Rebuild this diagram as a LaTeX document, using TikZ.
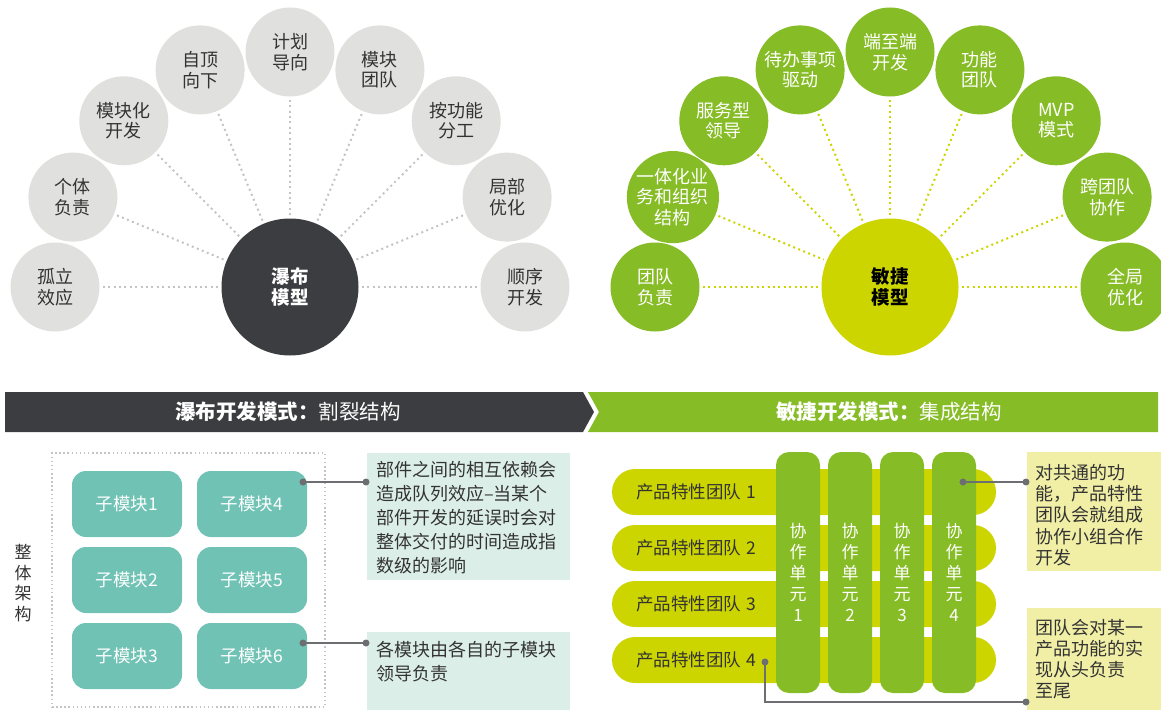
\documentclass[tikz,border=0pt]{standalone}
\usepackage{fontspec}
\setmainfont{Noto Sans CJK SC}
\definecolor{darkc}{HTML}{3C3D41}
\definecolor{grayc}{HTML}{E0E0DE}
\definecolor{greenc}{HTML}{86BC25}
\definecolor{limec}{HTML}{CDD500}
\definecolor{tealc}{HTML}{6FC2B4}
\definecolor{lteal}{HTML}{DCEEE8}
\definecolor{lyellow}{HTML}{F1EFA6}
\definecolor{linec}{HTML}{6D6E71}
\definecolor{dotgray}{HTML}{C4C4C4}
\definecolor{txt}{HTML}{333333}
\begin{document}
\begin{tikzpicture}[x=1pt,y=-1pt,
  sat/.style={circle,minimum size=89pt,inner sep=0pt,align=center,font=\fontsize{18}{20.5}\selectfont},
  wsat/.style={sat,fill=grayc,text=txt},
  gsat/.style={sat,fill=greenc,text=white},
  hub/.style={circle,minimum size=137pt,inner sep=0pt,align=center,font=\bfseries\fontsize{18.5}{21}\selectfont},
  gdot/.style={draw=dotgray,line width=2pt,dash pattern=on 2pt off 3.4pt,shorten <=3pt,shorten >=3pt},
  ldot/.style={gdot,draw=limec},
  tbox/.style={fill=tealc,rounded corners=14pt,minimum width=110pt,minimum height=66pt,inner sep=0pt,text=white,font=\fontsize{17.5}{20}\selectfont},
  bar/.style={fill=limec,rounded corners=23pt,minimum height=46pt,inner xsep=24pt,inner ysep=0pt,text width=336pt,align=left,text=txt,font=\fontsize{17.5}{20}\selectfont},
  colbox/.style={fill=greenc,rounded corners=13pt,minimum width=44pt,minimum height=241pt,inner sep=0pt,align=center,text=white,font=\fontsize{17}{21}\selectfont},
  boxfill/.style={anchor=north west,inner sep=0pt},
  ctext/.style={anchor=north west,inner sep=0pt,align=left,text=txt},
  dotn/.style={circle,fill=linec,minimum size=7pt,inner sep=0pt},
  conn/.style={draw=linec,line width=2pt},
  bantext/.style={text=white,font=\fontsize{20.5}{22}\selectfont,inner sep=0pt}
]
\useasboundingbox (0,0) rectangle (1161,709);

% ---------- left fan ----------
\node[hub,fill=darkc,text=white] (lc) at (290,287) {瀑布\\模型};
\node[wsat] (l0) at (55,287) {孤立\\效应};
\node[wsat] (l1) at (72.9,197.1) {个体\\负责};
\node[wsat] (l2) at (123.8,120.8) {模块化\\开发};
\node[wsat] (l3) at (200.1,69.9) {自顶\\向下};
\node[wsat] (l4) at (290,52) {计划\\导向};
\node[wsat] (l5) at (379.9,69.9) {模块\\团队};
\node[wsat] (l6) at (456.2,120.8) {按功能\\分工};
\node[wsat] (l7) at (507.1,197.1) {局部\\优化};
\node[wsat] (l8) at (525,287) {顺序\\开发};
\foreach \i in {0,...,8} { \draw[gdot] (l\i) -- (lc); }

% ---------- right fan ----------
\node[hub,fill=limec,text=black] (rc) at (890,287) {敏捷\\模型};
\node[gsat] (r0) at (655,287) {团队\\负责};
\node[gsat] (r1) at (672.9,197.1) {一体化业\\务和组织\\结构};
\node[gsat] (r2) at (723.8,120.8) {服务型\\领导};
\node[gsat] (r3) at (800.1,69.9) {待办事项\\驱动};
\node[gsat] (r4) at (890,52) {端至端\\开发};
\node[gsat] (r5) at (979.9,69.9) {功能\\团队};
\node[gsat] (r6) at (1056.2,120.8) {MVP\\模式};
\node[gsat] (r7) at (1107.1,197.1) {跨团队\\协作};
\node[gsat] (r8) at (1125,287) {全局\\优化};
\foreach \i in {0,...,8} { \draw[ldot] (r\i) -- (rc); }

% ---------- banner ----------
\fill[darkc] (5,392) -- (583,392) -- (594,412) -- (583,432) -- (5,432) -- cycle;
\fill[greenc] (588,392) -- (1158,392) -- (1158,432) -- (588,432) -- (599,412) -- cycle;
\node[bantext] (bl) at (288,412) {\textbf{瀑布开发模式：}割裂结构};
\node[bantext] (br) at (889,412) {\textbf{敏捷开发模式：}集成结构};

% ---------- bottom left ----------
\node[text=txt,align=center,inner sep=0pt,font=\fontsize{17}{20.4}\selectfont] (whole) at (23,583) {整\\体\\架\\构};
\node[draw=dotgray,line width=1.5pt,dash pattern=on 1.5pt off 2.6pt,minimum width=273pt,minimum height=254pt,inner sep=0pt] (frame) at (188.5,580) {};
\node[tbox] (m1) at (127,504) {子模块1};
\node[tbox] (m4) at (252,504) {子模块4};
\node[tbox] (m2) at (127,580) {子模块2};
\node[tbox] (m5) at (252,580) {子模块5};
\node[tbox] (m3) at (127,656) {子模块3};
\node[tbox] (m6) at (252,656) {子模块6};

\node[boxfill,fill=lteal,minimum width=203pt,minimum height=127pt] (cb1) at (367,453) {};
\node[ctext,font=\fontsize{18}{24}\selectfont] (ct1) at (376,461) {部件之间的相互依赖会\\造成队列效应–当某个\\部件开发的延误时会对\\整体交付的时间造成指\\数级的影响};
\node[boxfill,fill=lteal,minimum width=203pt,minimum height=80pt] (cb2) at (367,632) {};
\node[ctext,font=\fontsize{18}{24}\selectfont] (ct2) at (376,641) {各模块由各自的子模块\\领导负责};

\node[dotn] (d1a) at (303,482) {};
\node[dotn] (d1b) at (366,482) {};
\node[dotn] (d2a) at (303,643) {};
\node[dotn] (d2b) at (366,643) {};
\draw[conn] (d1a.center) -- (d1b.center);
\draw[conn] (d2a.center) -- (d2b.center);

% ---------- bottom right ----------
\node[bar] (b1) at (804,492) {产品特性团队 1};
\node[bar] (b2) at (804,548) {产品特性团队 2};
\node[bar] (b3) at (804,604) {产品特性团队 3};
\node[bar] (b4) at (804,660) {产品特性团队 4};
\node[colbox] (c1) at (798,572.5) {协\\作\\单\\元\\1};
\node[colbox] (c2) at (850,572.5) {协\\作\\单\\元\\2};
\node[colbox] (c3) at (902,572.5) {协\\作\\单\\元\\3};
\node[colbox] (c4) at (954,572.5) {协\\作\\单\\元\\4};

\node[boxfill,fill=lyellow,minimum width=140pt,minimum height=119pt] (yb1) at (1027,452) {};
\node[ctext,font=\fontsize{18}{21.3}\selectfont] (yt1) at (1035,464) {对共通的功\\能，产品特性\\团队会就组成\\协作小组合作\\开发};
\node[boxfill,fill=lyellow,minimum width=140pt,minimum height=104pt] (yb2) at (1027,608) {};
\node[ctext,font=\fontsize{18}{21.2}\selectfont] (yt2) at (1035,619) {团队会对某一\\产品功能的实\\现从头负责\\至尾};

\node[dotn] (e1a) at (963,482) {};
\node[dotn] (e1b) at (1026,482) {};
\node[dotn] (e2a) at (765,662) {};
\node[dotn] (e2b) at (1026,702) {};
\coordinate (e2m) at (765,702);
\draw[conn] (e1a.center) -- (e1b.center);
\draw[conn] (e2a.center) -- (e2m) -- (e2b.center);
\end{tikzpicture}
\end{document}
